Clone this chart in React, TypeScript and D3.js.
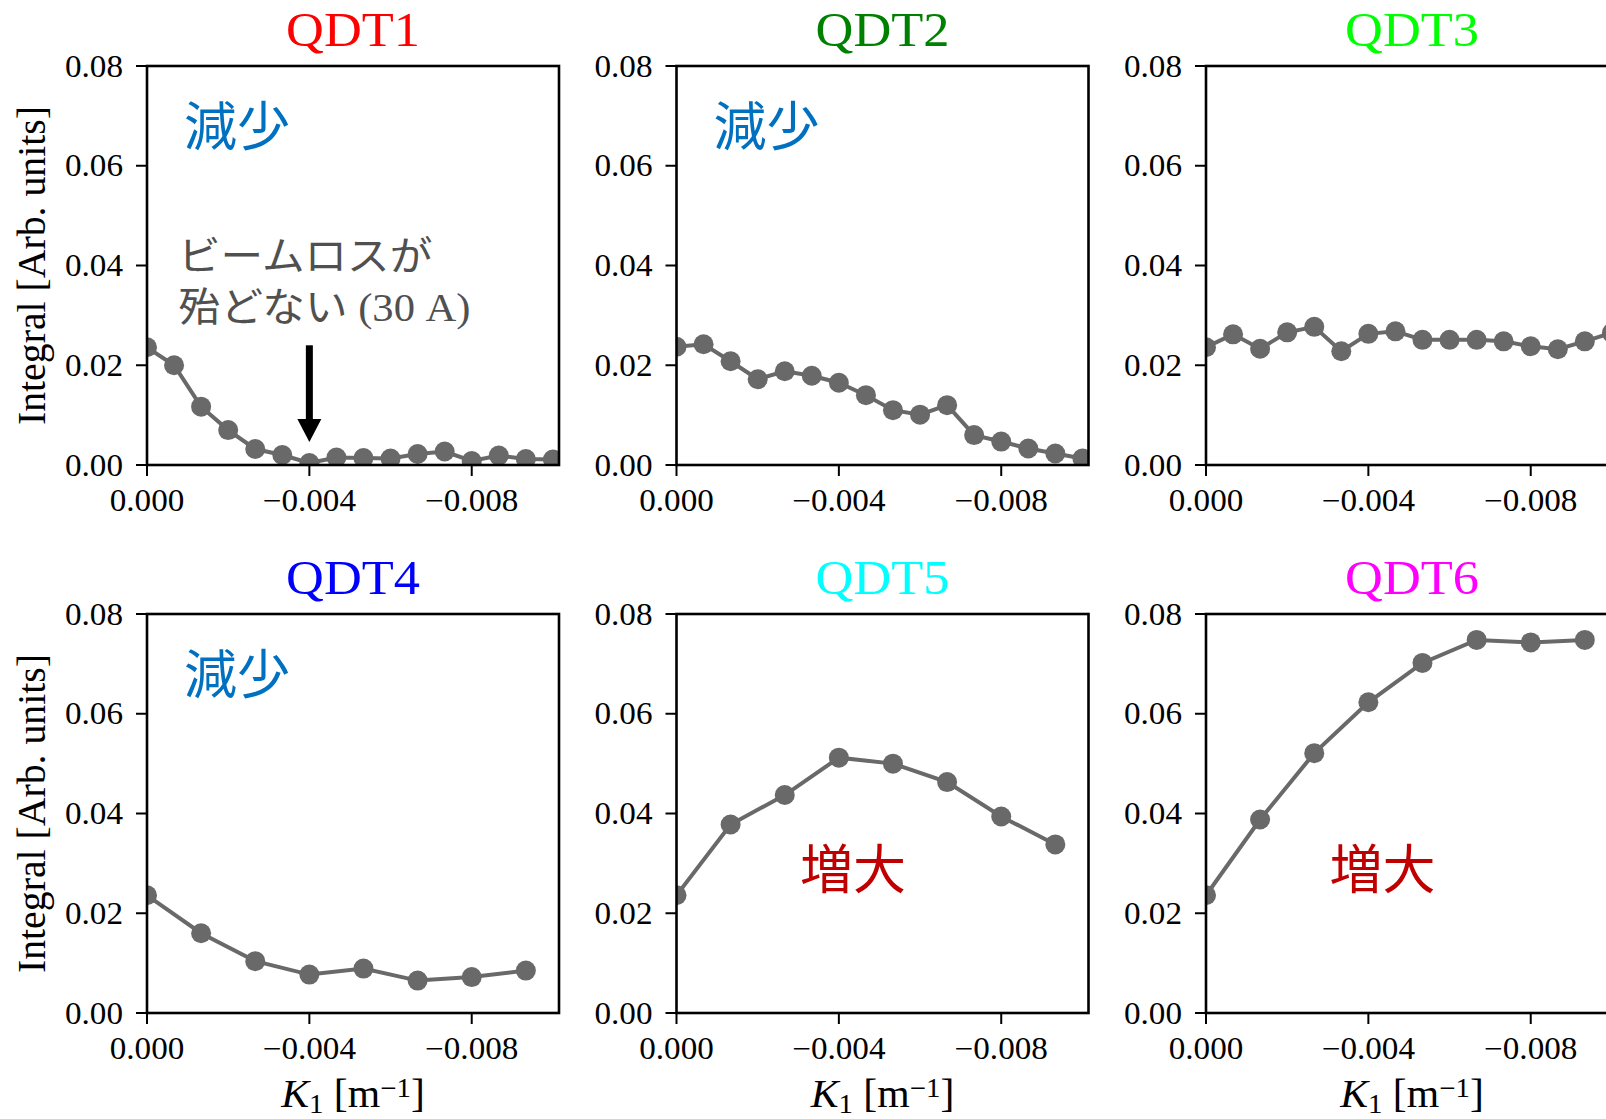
import * as d3 from 'd3'
import type { ReactNode } from 'react'

const width = 1606
const height = 1119

// K1 values [m^-1]
const k1Fine = [0, -0.000667, -0.001333, -0.002, -0.002667, -0.003333, -0.004, -0.004667,
  -0.005333, -0.006, -0.006667, -0.007333, -0.008, -0.008667, -0.009333, -0.01]
const k1Coarse = [0, -0.001333, -0.002667, -0.004, -0.005333, -0.006667, -0.008, -0.009333]

// integral of the beam loss monitor
const qdt1 = [0.0236, 0.0200, 0.0117, 0.0070, 0.0032, 0.0020, 0.0004, 0.0015,
  0.0014, 0.0013, 0.0022, 0.0027, 0.0008, 0.0019, 0.0012, 0.0011]
const qdt2 = [0.0237, 0.0242, 0.0208, 0.0172, 0.0188, 0.0179, 0.0165, 0.0140,
  0.0110, 0.0101, 0.0120, 0.0060, 0.0047, 0.0033, 0.0023, 0.0013]
const qdt3 = [0.0236, 0.0262, 0.0233, 0.0266, 0.0277, 0.0228, 0.0263, 0.0268,
  0.0251, 0.0251, 0.0251, 0.0248, 0.0238, 0.0232, 0.0248, 0.0265]
const qdt4 = [0.0236, 0.0160, 0.0104, 0.0077, 0.0089, 0.0065, 0.0072, 0.0085]
const qdt5 = [0.0236, 0.0378, 0.0437, 0.0512, 0.0500, 0.0463, 0.0394, 0.0338]
const qdt6 = [0.0236, 0.0388, 0.0521, 0.0623, 0.0702, 0.0748, 0.0743, 0.0748]

const names = ['QDT1', 'QDT2', 'QDT3', 'QDT4', 'QDT5', 'QDT6']
const titleColors = ['#ff0000', '#008000', '#00ff00', '#0000ff', '#00ffff', '#ff00ff']
const xTicks = [0, -0.004, -0.008]
const yTicks = [0, 0.02, 0.04, 0.06, 0.08]

const panels = [
  { k: k1Fine, v: qdt1, note: '減少' },
  { k: k1Fine, v: qdt2, note: '減少' },
  { k: k1Fine, v: qdt3, note: null },
  { k: k1Coarse, v: qdt4, note: '減少' },
  { k: k1Coarse, v: qdt5, note: '増大' },
  { k: k1Coarse, v: qdt6, note: '増大' },
]

const lefts = [147, 676.5, 1206]
const tops = [66, 614]
const axW = 412
const axH = 399

const serif = '"Liberation Serif", "Times New Roman", serif'
const cjk = '"Noto Sans CJK JP", sans-serif'
const mixed = '"Liberation Serif", "Noto Sans CJK JP", serif'
const markColor = '#696969'
const stretch = 1.07 // the serif text in the figure is a little wider than Liberation Serif

const fmtTick = (d: number, digits: number) =>
  (d < 0 ? '\u2212' : '') + Math.abs(d).toFixed(digits)

function T({ x, y, sx = stretch, rotate = 0, children, ...rest }:
  { x: number, y: number, sx?: number, rotate?: number, children: ReactNode, [k: string]: any }) {
  return (
    <g transform={`translate(${x},${y}) rotate(${rotate}) scale(${sx},1)`}>
      <text {...rest}>{children}</text>
    </g>
  )
}

function Panel({ i }: { i: number }) {
  const p = panels[i]
  const col = i % 3
  const row = Math.floor(i / 3)
  const x0 = lefts[col]
  const y0 = tops[row]

  const x = d3.scaleLinear().domain([0, -0.01015]).range([0, axW])
  const y = d3.scaleLinear().domain([0, 0.08]).range([axH, 0])

  const pts = p.k.map((k, j) => [k, p.v[j]] as [number, number])
  const line = d3.line<[number, number]>()
    .x(d => x(d[0]))
    .y(d => y(d[1]))

  const clipId = `clip-${i}`
  const isDecrease = p.note === '減少'
  const ax = x(-0.004)

  return (
    <g transform={`translate(${x0},${y0})`}>
      <defs>
        <clipPath id={clipId}>
          <rect x={0} y={0} width={axW} height={axH} />
        </clipPath>
      </defs>

      <T x={axW / 2} y={-20} textAnchor="middle" fontFamily={serif} fontSize={49}
        fill={titleColors[i]}>{names[i]}</T>

      <g clipPath={`url(#${clipId})`}>
        <path d={line(pts) ?? ''} fill="none" stroke={markColor} strokeWidth={4} />
        {pts.map((d, j) => (
          <circle key={j} cx={x(d[0])} cy={y(d[1])} r={10} fill={markColor} />
        ))}
      </g>

      {p.note && (
        <text
          x={isDecrease ? axW * 0.09 : axW * 0.3}
          y={isDecrease ? axH * 0.2 : axH * 0.69}
          fontFamily={cjk} fontSize={53}
          fill={isDecrease ? '#0070c0' : '#c00000'}>{p.note}</text>
      )}

      {i === 0 && (
        <g>
          <T x={31} y={204} sx={1.065} fontFamily={mixed} fontSize={40} fill="#505050">
            <tspan x={0}>ビームロスが</tspan>
            <tspan x={0} dy={51}>殆どない (30 A)</tspan>
          </T>
          <line x1={ax} x2={ax} y1={y(0.024)} y2={y(0.0046) - 22}
            stroke="#000" strokeWidth={7} />
          <path
            d={`M${ax - 12},${y(0.0046) - 23} L${ax + 12},${y(0.0046) - 23} L${ax},${y(0.0046)} Z`}
            fill="#000" />
        </g>
      )}

      {/* spines */}
      <rect x={0} y={0} width={axW} height={axH} fill="none" stroke="#000" strokeWidth={2.6} />

      {/* y axis */}
      {yTicks.map(t => (
        <g key={t} transform={`translate(0,${y(t)})`}>
          <line x1={-11} x2={0} stroke="#000" strokeWidth={2} />
          <T x={-24} y={10.5} textAnchor="end" fontFamily={serif} fontSize={31}
            fill="#000">{fmtTick(t, 2)}</T>
        </g>
      ))}

      {/* x axis */}
      {xTicks.map(t => (
        <g key={t} transform={`translate(${x(t)},${axH})`}>
          <line y1={0} y2={11} stroke="#000" strokeWidth={2} />
          <T x={0} y={46} textAnchor="middle" fontFamily={serif} fontSize={31}
            fill="#000">{fmtTick(t, 3)}</T>
        </g>
      ))}

      {col === 0 && (
        <T x={44.5 - x0} y={axH / 2} rotate={-90} sx={1.02} textAnchor="middle"
          fontFamily={serif} fontSize={39} fill="#000">Integral [Arb. units]</T>
      )}

      {row === 1 && (
        <T x={axW / 2} y={axH + 94} textAnchor="middle" fontFamily={serif} fontSize={39}
          fill="#000">
          <tspan fontStyle="italic">K</tspan>
          <tspan fontSize={27} dy={6}>1</tspan>
          <tspan dy={-6}> [m</tspan>
          <tspan fontSize={27} dy={-10}>{'\u2212'}1</tspan>
          <tspan dy={10}>]</tspan>
        </T>
      )}
    </g>
  )
}

export default function App() {
  return (
    <svg width={width} height={height}
      style={{ position: 'absolute', left: 0, top: 0, background: '#fff' }}>
      <rect width={width} height={height} fill="#fff" />
      {panels.map((_, i) => <Panel key={i} i={i} />)}
    </svg>
  )
}
